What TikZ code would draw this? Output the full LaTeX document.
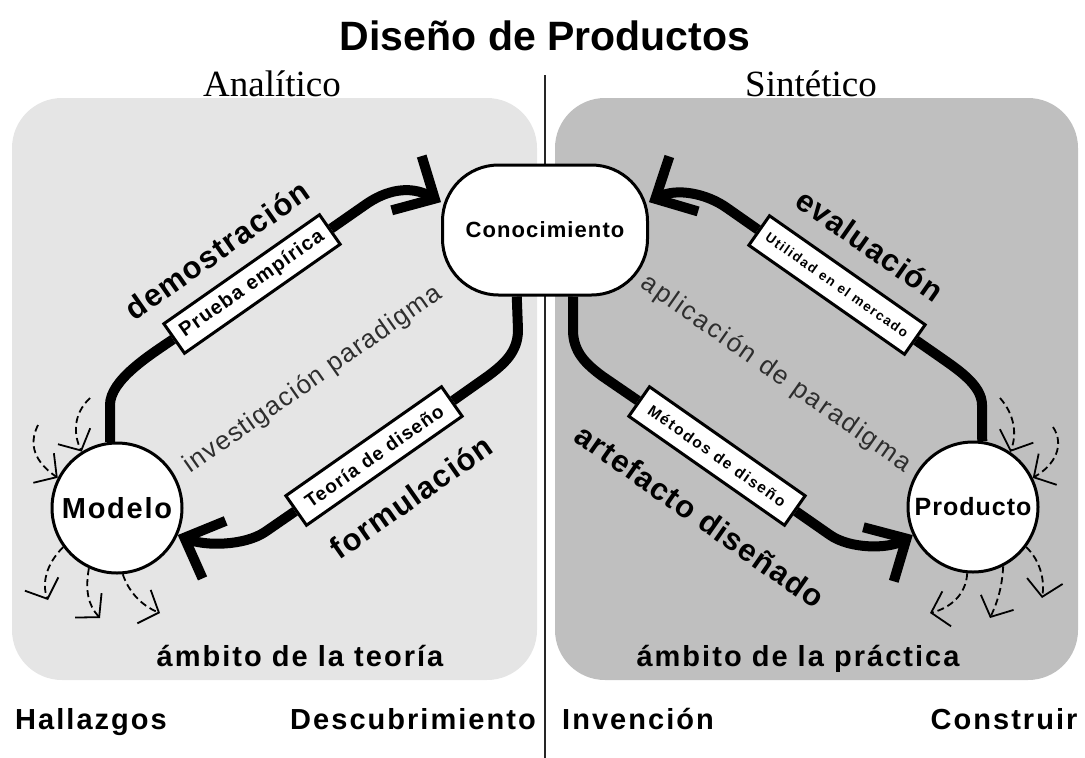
\documentclass[tikz,border=0pt]{standalone}
\usepackage{fontspec}
\setmainfont{Liberation Sans}
\newfontfamily\serf{Liberation Serif}
\usetikzlibrary{arrows.meta}
\newcommand\fsz[1]{\fontsize{#1}{#1}\selectfont}
\newcommand\lsp[1]{\addfontfeature{LetterSpace=#1}}
\definecolor{panelL}{HTML}{E5E5E5}
\definecolor{panelR}{HTML}{BFBFBF}
\definecolor{softtext}{HTML}{2E2E2E}
\tikzset{
  flowline/.style={line width=10pt, line join=round},
  flowarrow/.style={line width=10pt, line join=round, -{Straight Barb[length=32pt,width=62pt,sharp]}},
  stagebox/.style={draw, line width=3pt, fill=white, minimum width=190pt, minimum height=36pt, inner sep=0pt},
  circ/.style={circle, draw, line width=3pt, fill=white, minimum size=130pt, inner sep=0pt},
  conocbox/.style={rectangle, rounded corners=56pt, draw, line width=3pt, fill=white, minimum width=205pt, minimum height=130pt, inner sep=0pt},
  dasharrow/.style={line width=1.8pt, dash pattern=on 7pt off 4pt, -{Straight Barb[length=16pt,width=36pt]}},
  boldlbl/.style={font=\fsz{31}\bfseries\lsp{4}},
  softlbl/.style={text=softtext},
}
\begin{document}
\begin{tikzpicture}[x=1pt,y=-1pt]
\useasboundingbox (0,0) rectangle (1085,758);
% panels
\fill[panelL, rounded corners=50pt] (12,98) rectangle (537,680);
\fill[panelR, rounded corners=50pt] (555,98) rectangle (1078,680);
\draw[line width=2pt, black!85] (545,75) -- (545,758);

% headings
\node[anchor=base] (title) at (545,50) {\fsz{41}\bfseries Diseño de Productos};
\node[anchor=base] (analitico) at (272,96) {\serf\fsz{37}Analítico};
\node[anchor=base] (sintetico) at (811,96) {\serf\fsz{37}Sintético};

% main nodes
\node[conocbox] (conoc) at (545,230) {\fsz{22}\bfseries\lsp{5}Conocimiento};
\node[circ] (modelo) at (117,508) {\fsz{29}\bfseries\lsp{6}Modelo};
\node[circ] (producto) at (973,507) {\fsz{25}\bfseries\lsp{4}Producto};

% boxes
\node[stagebox, rotate=35] (box1) at (252,284) {\fsz{20}\bfseries\lsp{6}Prueba empírica};
\node[stagebox, rotate=35] (box2) at (374,456) {\fsz{19}\bfseries\lsp{6}Teoría de diseño};
\node[stagebox, rotate=-35] (box3) at (837,285) {\fsz{13.5}\bfseries\lsp{11}Utilidad en el mercado};
\node[stagebox, rotate=-35] (box4) at (717,456) {\fsz{15.5}\bfseries\lsp{11}Métodos de diseño};

% flow paths
\draw[flowline] (modelo.96) -- (110,405) .. controls (110,380) and (150,355) .. (box1.west);
\draw[flowarrow] (box1.east) -- (365,205) .. controls (386,190) and (410,185) .. (conoc.165);
\draw[flowline] (conoc.247) -- (518,330) .. controls (518,352) and (504,364) .. (488,376) -- (box2.east);
\draw[flowarrow] (box2.west) -- (265,532) .. controls (244,546) and (205,546) .. (modelo.-24);
\draw[flowline] (producto.82) -- (982,405) .. controls (982,385) and (957,369) .. (940,357) -- (box3.east);
\draw[flowarrow] (box3.west) -- (727,208) .. controls (706,193) and (676,188) .. (conoc.15);
\draw[flowline] (conoc.293) -- (573,330) .. controls (573,352) and (586,364) .. (602,376) -- (box4.west);
\draw[flowarrow] (box4.east) -- (830,535) .. controls (850,549) and (888,549) .. (producto.205);

% labels
\node[boldlbl, rotate=35] (lblDem) at (217,250) {demostración};
\node[boldlbl, rotate=35] (lblForm) at (411,497) {formulación};
\node[boldlbl, rotate=-35] (lblEval) at (870,245) {evaluación};
\node[boldlbl, rotate=-35] (lblArt) at (700,516) {artefacto diseñado};
\node[softlbl, rotate=35] (lblInv) at (313,380) {\fsz{26}\lsp{5}investigación paradigma};
\node[softlbl, rotate=-35] (lblApl) at (776,374) {\fsz{26}\lsp{8}aplicación de paradigma};

% scope labels
\node[anchor=base] (ambT) at (300,666) {\fsz{29}\bfseries\lsp{7}ámbito de la teoría};
\node[anchor=base] (ambP) at (798,666) {\fsz{29}\bfseries\lsp{7}ámbito de la práctica};
\node[anchor=base] (hall) at (91,729) {\fsz{29}\bfseries\lsp{7}Hallazgos};
\node[anchor=base] (desc) at (413,729) {\fsz{29}\bfseries\lsp{7}Descubrimiento};
\node[anchor=base] (inv) at (638,729) {\fsz{29}\bfseries\lsp{7}Invención};
\node[anchor=base] (cons) at (1004,729) {\fsz{29}\bfseries\lsp{7}Construir};

% dashed arrows around Modelo
\draw[dasharrow] (90,398) .. controls (72,415) and (74,436) .. (modelo.122);
\draw[dasharrow] (38,425) .. controls (28,445) and (35,462) .. (modelo.153);
\draw[dasharrow] (modelo.216) .. controls (45,565) and (42,585) .. (48,600);
\draw[dasharrow] (modelo.245) .. controls (85,590) and (88,605) .. (100,618);
\draw[dasharrow] (modelo.275) .. controls (128,590) and (140,605) .. (160,613);

% dashed arrows around Producto
\draw[dasharrow] (1000,398) .. controls (1015,415) and (1017,435) .. (producto.56);
\draw[dasharrow] (1053,427) .. controls (1065,445) and (1055,465) .. (producto.26);
\draw[dasharrow] (producto.265) .. controls (966,595) and (950,608) .. (930,613);
\draw[dasharrow] (producto.297) .. controls (1002,590) and (996,605) .. (990,618);
\draw[dasharrow] (producto.323) .. controls (1040,560) and (1045,580) .. (1042,598);
\end{tikzpicture}
\end{document}
